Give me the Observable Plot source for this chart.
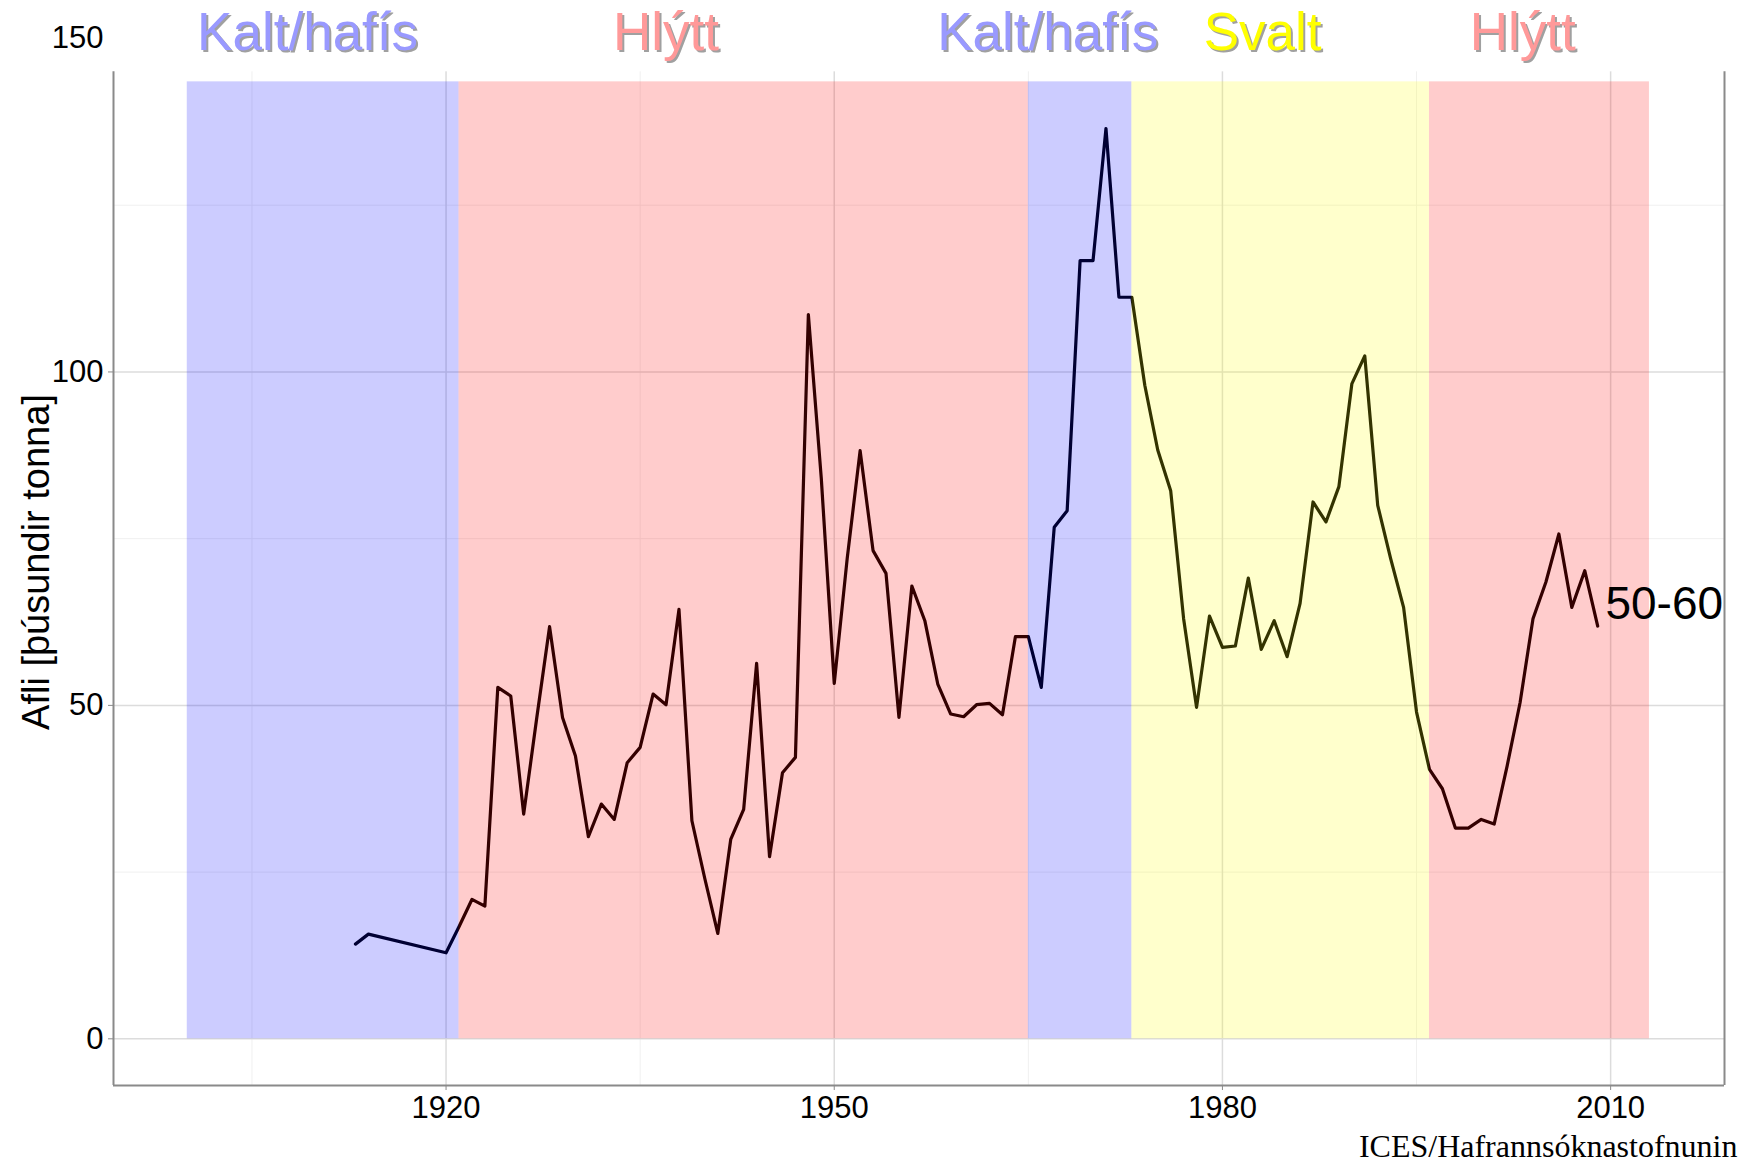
<!DOCTYPE html>
<html>
<head>
<meta charset="utf-8">
<script src="https://cdn.jsdelivr.net/npm/d3@7"></script>
<script src="https://cdn.jsdelivr.net/npm/@observablehq/plot@0.6"></script>
<style>
  html, body { margin: 0; padding: 0; background: #fff; }
  #chart svg { display: block; }
</style>
</head>
<body>
<div id="chart"></div>
<script>
// ---- data ----
const years = [1913,1914,1920,1921,1922,1923,1924,1925,1926,1927,1928,1929,1930,1931,1932,1933,1934,1935,1936,1937,1938,1939,1940,1941,1942,1943,1944,1945,1946,1947,1948,1949,1950,1951,1952,1953,1954,1955,1956,1957,1958,1959,1960,1961,1962,1963,1964,1965,1966,1967,1968,1969,1970,1971,1972,1973,1974,1975,1976,1977,1978,1979,1980,1981,1982,1983,1984,1985,1986,1987,1988,1989,1990,1991,1992,1993,1994,1995,1996,1997,1998,1999,2000,2001,2002,2003,2004,2005,2006,2007,2008,2009];
const catch_kt = [14.2,15.7,12.9,16.8,20.9,19.9,52.7,51.4,33.7,48,61.8,48.2,42.4,30.3,35.2,32.9,41.4,43.7,51.7,50.1,64.4,32.7,24,15.8,29.9,34.4,56.3,27.3,39.9,42.2,108.6,84,53.3,72,88.2,73.2,69.8,48.2,67.9,62.7,53.2,48.7,48.3,50.1,50.3,48.6,60.3,60.3,52.7,76.7,79.2,116.7,116.7,136.5,111.2,111.2,98,88.3,82.2,63,49.7,63.4,58.7,58.9,69.1,58.4,62.7,57.3,65.3,80.5,77.5,82.8,98.2,102.4,80,72,64.7,49,40.4,37.5,31.6,31.6,32.9,32.2,40.9,50.4,63,68.5,75.7,64.7,70.2,61.9];

const periodStart = [1900, 1921, 1965, 1973, 1996];
const periodEnd   = [1921, 1965, 1973, 1996, 2013];
const periodFill  = ["blue", "red", "blue", "yellow", "red"];
const periodTop   = 143.5;

const labelText  = ["Kalt/hafís", "Hlýtt", "Kalt/hafís", "Svalt", "Hlýtt"];
const labelX     = [1909.3, 1937, 1966.5, 1983.1, 2003.2];
const labelColor = ["#9999ff", "#ff9999", "#9999ff", "#ffff00", "#ff9999"];
const labelY     = 150;

const yTicks = [0, 50, 100, 150];
const yTickMarks = [0, 50, 100];
const yMinor = [25, 75, 125];
const xTicks = [1920, 1950, 1980, 2010];
const xMinor = [1905, 1935, 1965, 1995];

const endLabel = {text: "50-60", x: 2009.6, y: 65.1};
const yTitle = "Afli [þúsundir tonna]";
const caption = "ICES/Hafrannsóknastofnunin";

const xDomain = [1894.3, 2018.8];
const yDomain = [-7, 150];
const coverFrom = 145;   // white band at the top of the panel
const coverTo = 156;

// ---- tables ----
const series = years.map((yr, i) => ({year: yr, value: catch_kt[i]}));
const periods = periodStart.map((s, i) => ({x1: s, x2: periodEnd[i], fill: periodFill[i]}));
const labels = labelText.map((t, i) => ({text: t, x: labelX[i], color: labelColor[i]}));

const sans = "'Liberation Sans', Arial, sans-serif";
const axisGray = "#8a8a8a";

const chart = Plot.plot({
  width: 1744,
  height: 1164,
  marginLeft: 113,
  marginRight: 20,
  marginTop: 38,
  marginBottom: 79,
  style: {fontFamily: sans, background: "#fff", color: "#000", overflow: "visible"},
  x: {domain: xDomain},
  y: {domain: yDomain},
  marks: [
    // grid
    Plot.gridX(xMinor, {stroke: "#f0f0f0", strokeOpacity: 1, strokeWidth: 1}),
    Plot.gridY(yMinor, {stroke: "#f0f0f0", strokeOpacity: 1, strokeWidth: 1}),
    Plot.gridX(xTicks, {stroke: "#dcdcdc", strokeOpacity: 1, strokeWidth: 1.5}),
    Plot.gridY(yTicks, {stroke: "#dcdcdc", strokeOpacity: 1, strokeWidth: 1.5}),
    // catch line
    Plot.line(series, {x: "year", y: "value", stroke: "#000", strokeWidth: 3.2, strokeLinejoin: "round"}),
    // period rectangles (translucent, above line)
    Plot.rect(periods, {x1: "x1", x2: "x2", y1: 0, y2: periodTop, fill: "fill", fillOpacity: 0.2}),
    // white cover at the top of the panel
    Plot.rect([0], {x1: xDomain[0], x2: xDomain[1], y1: coverFrom, y2: coverTo, fill: "#fff"}),
    // panel lines
    Plot.ruleX([xDomain[0], xDomain[1]], {y1: yDomain[0], y2: coverFrom, stroke: axisGray, strokeWidth: 2}),
    Plot.ruleY([yDomain[0]], {x1: xDomain[0], x2: xDomain[1], stroke: axisGray, strokeWidth: 2}),
    // axes
    Plot.axisY(yTickMarks, {tickSize: 5, tickFormat: () => "", stroke: axisGray, label: null}),
    Plot.axisY(yTicks, {tickSize: 0, tickPadding: 10, fontSize: 31, fill: "#000", label: null}),
    Plot.axisX(xTicks, {tickSize: 5, tickPadding: 5, fontSize: 31, fill: "#000", stroke: axisGray, label: null, tickFormat: d => String(d)}),
    // period labels with shadow
    Plot.text(labels, {x: "x", y: labelY, text: "text", fill: "#a0a0a0", fontSize: 53, dx: 2, dy: -3, lineAnchor: "middle"}),
    Plot.text(labels, {x: "x", y: labelY, text: "text", fill: "color", fontSize: 53, dy: -5, lineAnchor: "middle"}),
    // end label
    Plot.text([endLabel], {x: "x", y: "y", text: "text", fontSize: 46, textAnchor: "start", lineAnchor: "middle", fill: "#000"}),
    // y-axis title
    Plot.text([yTitle], {frameAnchor: "left", dx: -77, rotate: -90, fontSize: 38, fill: "#000", textAnchor: "middle", lineAnchor: "middle"}),
    // caption
    Plot.text([caption], {frameAnchor: "bottom-right", dx: 13, dy: 61, textAnchor: "end", lineAnchor: "middle", fontSize: 32, fontFamily: "'Liberation Serif', 'Times New Roman', serif", fill: "#000"})
  ]
});
document.getElementById("chart").appendChild(chart);
</script>
</body>
</html>
